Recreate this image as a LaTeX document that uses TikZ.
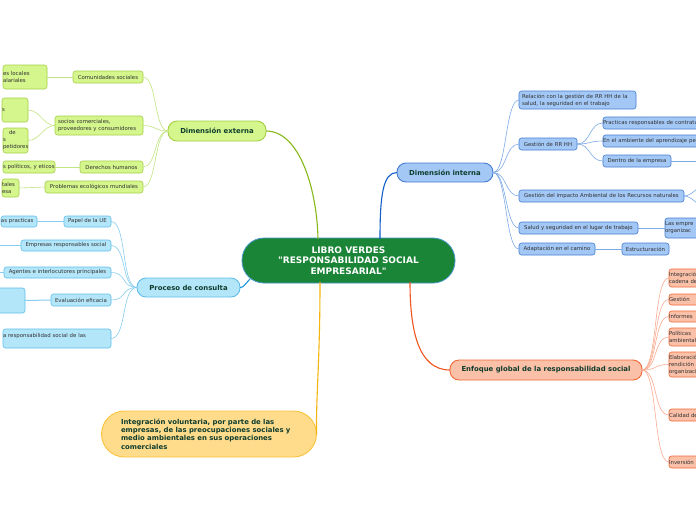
\documentclass[tikz,border=0pt]{standalone}
\usepackage{fontspec}
\setmainfont{DejaVu Sans}
\definecolor{centerfill}{RGB}{27,133,55}
\definecolor{centerdraw}{RGB}{70,150,200}
\definecolor{maintext}{RGB}{15,60,45}
\definecolor{subtext}{RGB}{50,50,50}
\definecolor{extfill}{RGB}{212,246,140}
\definecolor{extdraw}{RGB}{165,208,70}
\definecolor{extline}{RGB}{135,185,25}
\definecolor{extsub}{RGB}{195,228,130}
\definecolor{profill}{RGB}{180,230,250}
\definecolor{prodraw}{RGB}{95,190,235}
\definecolor{proline}{RGB}{25,150,220}
\definecolor{prosub}{RGB}{135,205,240}
\definecolor{intfill}{RGB}{163,200,246}
\definecolor{intdraw}{RGB}{70,125,210}
\definecolor{intline}{RGB}{15,95,200}
\definecolor{intsub}{RGB}{125,170,230}
\definecolor{enffill}{RGB}{250,192,168}
\definecolor{enfdraw}{RGB}{240,105,55}
\definecolor{enfline}{RGB}{240,85,30}
\definecolor{enfsub}{RGB}{250,172,145}
\definecolor{yelfill}{RGB}{254,220,140}
\definecolor{yeldraw}{RGB}{250,195,60}
\definecolor{yelline}{RGB}{245,180,15}
\tikzset{
  base/.style={rectangle, inner sep=0pt, outer sep=0pt},
  mainbox/.style={base, rounded corners=9pt, line width=0.9pt, text=maintext,
    font=\fontsize{6.9}{8.3}\selectfont\bfseries},
  subbox/.style={base, rounded corners=2.5pt, line width=0.6pt, text=subtext,
    font=\fontsize{5.4}{7}\selectfont, align=left},
  extmain/.style={mainbox, fill=extfill, draw=extdraw},
  extbox/.style={subbox, fill=extfill, draw=extdraw},
  promain/.style={mainbox, fill=profill, draw=prodraw},
  probox/.style={subbox, fill=profill, draw=prodraw},
  intmain/.style={mainbox, fill=intfill, draw=intdraw},
  intbox/.style={subbox, fill=intfill, draw=intdraw},
  enfmain/.style={mainbox, fill=enffill, draw=enfdraw},
  enfbox/.style={subbox, fill=enffill, draw=enfdraw},
  extl/.style={draw=extsub, line width=0.6pt},
  prol/.style={draw=prosub, line width=0.6pt},
  intl/.style={draw=intsub, line width=0.6pt},
  enfl/.style={draw=enfsub, line width=0.6pt},
}
\begin{document}
\begin{tikzpicture}[x=1pt, y=-1pt]
\clip (0,0) rectangle (696,520);
\fill[white] (0,0) rectangle (696,520);

% ---------- centre ----------
\node[base, rounded corners=22pt, fill=centerfill, draw=centerdraw, line width=0.8pt,
  minimum width=213pt, minimum height=45pt, text=white, align=center,
  font=\fontsize{9}{10.5}\selectfont\bfseries] (c) at (348.5,260.5)
  {LIBRO VERDES\\\textquotedbl RESPONSABILIDAD SOCIAL\\EMPRESARIAL\textquotedbl};

% ---------- main branches ----------
\node[extmain, minimum width=98pt, minimum height=20pt] (ext) at (217,131) {Dimensión externa};
\node[promain, minimum width=103pt, minimum height=19pt] (pro) at (188.5,287.5) {Proceso de consulta};
\node[intmain, minimum width=96pt, minimum height=19pt] (int) at (445,172.5) {Dimensión interna};
\node[enfmain, minimum width=192pt, minimum height=20pt] (enf) at (546,370) {Enfoque global de la responsabilidad social};
\node[mainbox, rounded corners=23pt, fill=yelfill, draw=yeldraw, minimum width=215pt, minimum height=46pt,
  text width=176pt, align=left] (yel) at (209,434)
  {Integración voluntaria, por parte de las\\empresas, de las preocupaciones sociales y\\medio ambientales en sus operaciones\\comerciales};

\coordinate (cext) at (318,239);
\coordinate (cint) at (380,239);
\coordinate (cpro) at (250,279);
\coordinate (cenf) at (410,282);
\coordinate (cyel) at (320,282);
\draw[draw=extline, line width=1.1pt] (ext.east) .. controls (300,131) and (317,190) .. (cext);
\draw[draw=intline, line width=1.1pt] (cint) .. controls (380,195) and (383,172.5) .. (int.west);
\draw[draw=proline, line width=1.1pt] (cpro) .. controls (245,284) and (244,287.5) .. (pro.east);
\draw[draw=enfline, line width=1.1pt] (cenf) .. controls (410,330) and (418,370) .. (enf.west);
\draw[draw=yelline, line width=1.1pt] (cyel) .. controls (320,360) and (316,395) .. (yel.east);

% ---------- Dimension externa ----------
\node[extbox, minimum width=70pt, minimum height=12pt] (cs) at (108,77) {Comunidades sociales};
\node[extbox, minimum width=88pt, minimum height=19pt, text width=82pt] (soc) at (99,125.5) {socios comerciales,\\proveedores y consumidores};
\node[extbox, minimum width=63pt, minimum height=12pt] (dh) at (111.5,167) {Derechos humanos};
\node[extbox, minimum width=98pt, minimum height=12pt] (pem) at (94,187) {Problemas ecológicos mundiales};

\node[extbox, anchor=east, minimum height=24pt, text width=44pt] (g1) at (47,77) {es locales\\alariales};
\node[extbox, anchor=east, minimum height=24pt, text width=26pt] (g2) at (28,110) {s};
\node[extbox, anchor=east, minimum height=25pt, text width=25pt] (g3) at (28,140.5) {\hspace*{6pt}de\\s\\petidores};
\node[extbox, anchor=east, minimum height=12pt, text width=52pt] (g4) at (55,167) {s políticos, y eticos};
\node[extbox, anchor=east, minimum height=18pt, text width=17pt] (g5) at (19,188) {tales\\esa};

\foreach \n in {cs,soc,dh,pem}
  \draw[extl] (ext.west) .. controls +(-14,0) and +(14,0) .. (\n.east);
\draw[extl] (cs.west) -- (g1.east);
\draw[extl] (soc.west) .. controls +(-12,0) and +(12,0) .. (g2.east);
\draw[extl] (soc.west) .. controls +(-12,0) and +(12,0) .. (g3.east);
\draw[extl] (dh.west) -- (g4.east);
\draw[extl] (pem.west) -- (g5.east);

% ---------- Proceso de consulta ----------
\node[probox, minimum width=47pt, minimum height=11pt] (pue) at (87.5,221.5) {Papel de la UE};
\node[probox, minimum width=90pt, minimum height=11pt] (ers) at (66,245.5) {Empresas responsables social};
\node[probox, minimum width=107pt, minimum height=11pt] (aip) at (57.5,272.5) {Agentes e interlocutores principales};
\node[probox, minimum width=60pt, minimum height=12pt] (ee) at (81,300) {Evaluación eficacia};
\node[probox, anchor=east, minimum height=11pt, text width=36pt] (pue2) at (37,221.5) {as practicas};
\node[probox, anchor=east, minimum height=25pt, minimum width=45pt] (ee2) at (25,300.5) {};
\node[probox, anchor=east, minimum height=19pt, text width=108pt] (rs) at (111,338.5) {a responsabilidad social de las\\\mbox{}};
\coordinate (ers2) at (-10,245.5);
\coordinate (aip2) at (-10,272.5);

\foreach \n in {pue,ers,aip,ee,rs}
  \draw[prol] (pro.west) .. controls +(-16,0) and +(16,0) .. (\n.east);
\draw[prol] (pue.west) -- (pue2.east);
\draw[prol] (ers.west) -- (ers2);
\draw[prol] (aip.west) -- (aip2);
\draw[prol, line width=1pt] (ee.west) -- (ee2.east);

% ---------- Dimension interna ----------
\node[intbox, minimum width=117pt, minimum height=18pt, text width=111pt] (rel) at (577.5,100) {Relación con la gestión de RR HH de la\\salud, la seguridad en el trabajo};
\node[intbox, minimum width=58pt, minimum height=12pt] (grh) at (548,144) {Gestión de RR HH};
\node[intbox, minimum width=165pt, minimum height=12pt] (gia) at (601.5,196) {Gestión del impacto Ambiental de los Recursos naturales};
\node[intbox, minimum width=119pt, minimum height=12pt] (ssl) at (578.5,228) {Salud y seguridad en el lugar de trabajo};
\node[intbox, minimum width=76pt, minimum height=12pt] (aec) at (557,249) {Adaptación en el camino};

\node[intbox, anchor=west, minimum height=12pt, text width=130pt] (prc) at (603,123) {Practicas responsables de contratación};
\node[intbox, anchor=west, minimum height=12pt, text width=130pt] (eaa) at (603,141) {En el ambiente del aprendizaje permanente};
\node[intbox, minimum width=68pt, minimum height=12pt] (dde) at (637,161) {Dentro de la empresa};
\node[intbox, anchor=west, minimum height=20pt, text width=60pt] (lem) at (665,228) {Las empre\\organizac};
\node[intbox, minimum width=47pt, minimum height=12pt] (est) at (645.5,249) {Estructuración};
\coordinate (dde2) at (710,161);
\coordinate (gia2) at (702,186);
\coordinate (gia3) at (702,206);

\foreach \n in {rel,grh,gia,ssl,aec}
  \draw[intl] (int.east) .. controls +(14,0) and +(-14,0) .. (\n.west);
\foreach \n in {prc,eaa,dde}
  \draw[intl] (grh.east) .. controls +(14,0) and +(-14,0) .. (\n.west);
\draw[intl] (dde.east) -- (dde2);
\draw[intl] (gia.east) .. controls +(8,0) and +(-4,0) .. (gia2);
\draw[intl] (gia.east) .. controls +(8,0) and +(-4,0) .. (gia3);
\draw[intl] (ssl.east) -- (lem.west);
\draw[intl] (aec.east) -- (est.west);

% ---------- Enfoque global ----------
\node[enfbox, anchor=west, minimum height=18pt, text width=60pt] (e1) at (669,278) {Integración en la\\cadena de};
\node[enfbox, anchor=west, minimum height=11pt, text width=60pt] (e2) at (669,299.5) {Gestión};
\node[enfbox, anchor=west, minimum height=11pt, text width=60pt] (e3) at (669,316.5) {Informes};
\node[enfbox, anchor=west, minimum height=18pt, text width=60pt] (e4) at (669,337) {Políticas\\ambientales};
\node[enfbox, anchor=west, minimum height=25pt, text width=60pt] (e5) at (669,364.5) {Elaboración\\rendición\\organizaciones};
\node[enfbox, anchor=west, minimum height=12pt, text width=60pt] (e6) at (669,415) {Calidad de};
\node[enfbox, anchor=west, minimum height=12pt, text width=60pt] (e7) at (669,462) {Inversión};

\foreach \n in {e1,e2,e3,e4,e5,e6,e7}
  \draw[enfl] (enf.east) .. controls +(16,0) and +(-16,0) .. (\n.west);
\end{tikzpicture}
\end{document}
